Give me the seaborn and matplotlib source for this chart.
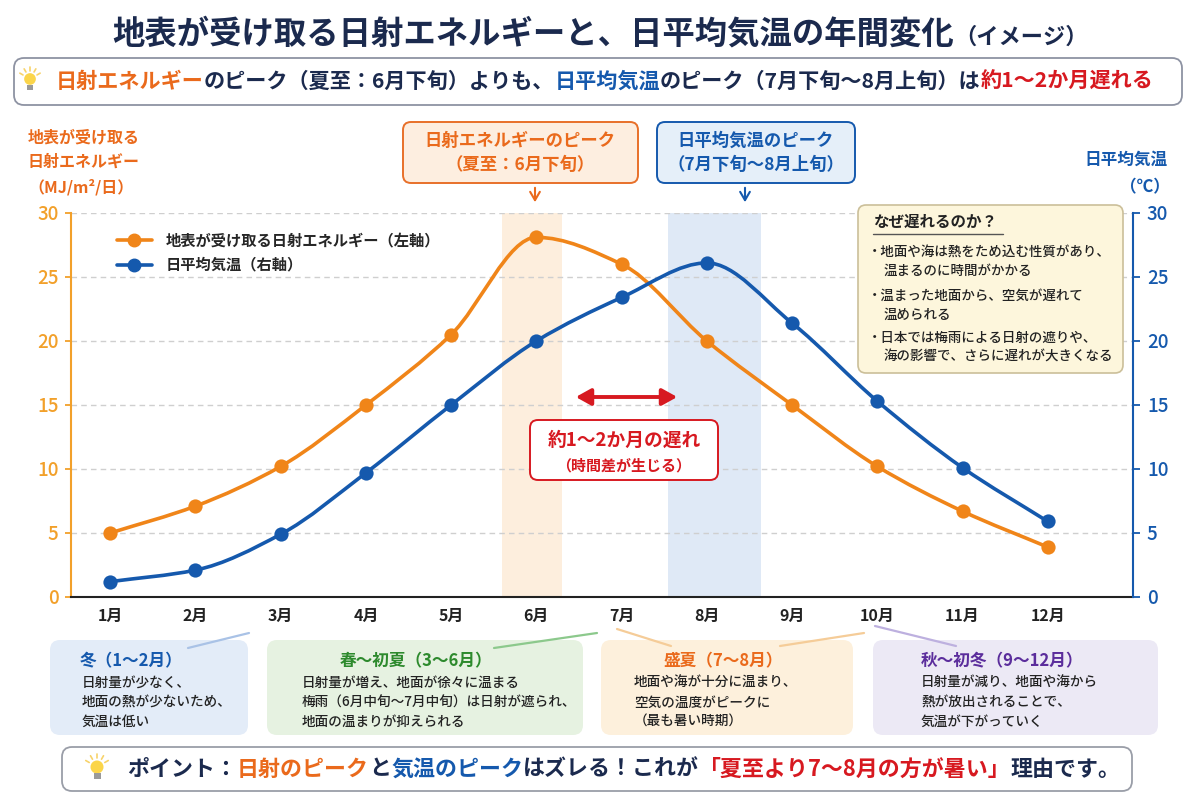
import numpy as np
import matplotlib
matplotlib.use("Agg")
import matplotlib.pyplot as plt
from matplotlib.patches import FancyBboxPatch, PathPatch, Circle, Rectangle, FancyArrowPatch
from matplotlib.path import Path
from matplotlib.lines import Line2D
import seaborn as sns

# data
months = np.arange(1, 13)
month_labels = [f"{m}月" for m in months]
solar = [5.0, 7.1, 10.2, 15.0, 20.5, 28.1, 26.0, 20.0, 15.0, 10.2, 6.7, 3.9]   # MJ/m2/day
temp = [1.2, 2.1, 4.9, 9.7, 15.0, 20.0, 23.4, 26.1, 21.4, 15.3, 10.1, 5.9]     # deg C
solar_peak_span = (5.6, 6.3)
temp_peak_span = (7.55, 8.64)
y_ticks = [0, 5, 10, 15, 20, 25, 30]

NAVY = "#1b2a4e"
ORANGE = "#f08519"
ORANGE_TXT = "#ea6a1c"
ORANGE_TICK = "#f2a02a"
BLUE = "#1559ad"
RED = "#d71920"
GREEN = "#2d8a2d"
PURPLE = "#5b2d9c"

sns.set_theme(style="white")
plt.rcParams["font.family"] = ["Noto Sans CJK JP", "DejaVu Sans"]

fig = plt.figure(figsize=(12, 8), dpi=100)
fig.patch.set_facecolor("white")


def smooth_path(x, y):
    # monotone cubic (pchip-style) rendered as bezier segments
    x = np.asarray(x, float)
    y = np.asarray(y, float)
    h = np.diff(x)
    d = np.diff(y) / h
    m = np.zeros_like(y)
    for k in range(1, len(x) - 1):
        if d[k - 1] * d[k] <= 0:
            m[k] = 0
        else:
            w1 = 2 * h[k] + h[k - 1]
            w2 = h[k] + 2 * h[k - 1]
            m[k] = (w1 + w2) / (w1 / d[k - 1] + w2 / d[k])
    m[0] = d[0]
    m[-1] = d[-1]
    verts = [(x[0], y[0])]
    codes = [Path.MOVETO]
    for k in range(len(x) - 1):
        verts += [(x[k] + h[k] / 3, y[k] + m[k] * h[k] / 3),
                  (x[k + 1] - h[k] / 3, y[k + 1] - m[k + 1] * h[k] / 3),
                  (x[k + 1], y[k + 1])]
        codes += [Path.CURVE4] * 3
    return Path(verts, codes)


# ---- main chart
ax = fig.add_axes([71 / 1200, 1 - 597 / 800, (1133 - 71) / 1200, (597 - 213) / 800])
ax2 = ax.twinx()
for a in (ax, ax2):
    a.set_xlim(0.54, 13.0)
    a.set_ylim(0, 30)
    a.set_yticks(y_ticks)

ax.set_axisbelow(True)
ax.yaxis.grid(True, linestyle=(0, (4, 3)), color="#cfcfcf", linewidth=1)
ax.xaxis.grid(False)
ax.axvspan(*solar_peak_span, color="#fdeedd", zorder=0.2, lw=0)
ax.axvspan(*temp_peak_span, color="#dfe9f6", zorder=0.2, lw=0)

ax.add_patch(PathPatch(smooth_path(months, solar), fill=False, edgecolor=ORANGE, lw=2.6, zorder=3))
sns.scatterplot(x=months, y=solar, ax=ax, color=ORANGE, s=105, linewidth=0, zorder=4, legend=False)
ax2.add_patch(PathPatch(smooth_path(months, temp), fill=False, edgecolor=BLUE, lw=2.6, zorder=3))
sns.scatterplot(x=months, y=temp, ax=ax2, color=BLUE, s=105, linewidth=0, zorder=4, legend=False)

ax.set_xticks(months)
ax.set_xticklabels(month_labels, fontsize=11.5, fontweight="bold", color="#222222")
ax.tick_params(axis="x", length=0, pad=8)
ax.tick_params(axis="y", colors=ORANGE_TICK, labelsize=13.5, length=4, width=1.3, pad=5)
ax2.tick_params(axis="y", colors=BLUE, labelsize=13.5, length=5, width=1.3, pad=5)
for lab in ax.get_yticklabels() + ax2.get_yticklabels():
    lab.set_fontweight("medium")
ax.set_xlabel("")
ax.set_ylabel("")
ax2.set_ylabel("")

for s in ("top", "right"):
    ax.spines[s].set_visible(False)
for s in ("top", "left", "bottom"):
    ax2.spines[s].set_visible(False)
ax.spines["left"].set_color(ORANGE_TICK)
ax.spines["left"].set_linewidth(1.5)
ax.spines["bottom"].set_color("#222222")
ax.spines["bottom"].set_linewidth(1.5)
ax2.spines["right"].set_color(BLUE)
ax2.spines["right"].set_linewidth(1.5)

handles = [Line2D([], [], color=ORANGE, lw=2.6, marker="o", ms=9),
           Line2D([], [], color=BLUE, lw=2.6, marker="o", ms=9)]
ax2.legend(handles, ["地表が受け取る日射エネルギー（左軸）", "日平均気温（右軸）"],
           loc="upper left", bbox_to_anchor=(0.03, 0.985), frameon=False,
           handlelength=2.3, handletextpad=0.9, labelspacing=0.55,
           prop={"weight": "bold", "size": 11})

# ---- overlay in pixel coordinates for the annotations
ov = fig.add_axes([0, 0, 1, 1], zorder=10)
ov.set_xlim(0, 1200)
ov.set_ylim(800, 0)
ov.axis("off")
ov.patch.set_visible(False)
renderer = fig.canvas.get_renderer()


def rich(x, y, parts, size, ha="left", weight="bold", va="center"):
    objs = []
    cur = x
    for part in parts:
        s, c = part[0], part[1]
        sz = part[2] if len(part) > 2 else size
        t = ov.text(cur, y, s, color=c, fontsize=sz, fontweight=weight, ha="left", va=va)
        objs.append(t)
        cur += t.get_window_extent(renderer).width
    total = cur - x
    if ha == "center":
        for t in objs:
            t.set_x(t.get_position()[0] - total / 2)
    return total


def rbox(x0, y0, x1, y1, fc, ec, lw=1.2, r=8):
    ov.add_patch(FancyBboxPatch((x0, y0), x1 - x0, y1 - y0,
                                boxstyle=f"round,pad=0,rounding_size={r}",
                                fc=fc, ec=ec, lw=lw))


def bulb(x, y, scale=1.0):
    for ang in np.linspace(-150, -30, 5):
        a = np.deg2rad(ang)
        ov.plot([x + 9 * scale * np.cos(a), x + 13 * scale * np.cos(a)],
                [y - 2 + 9 * scale * np.sin(a), y - 2 + 13 * scale * np.sin(a)],
                color="#f7d36b", lw=1.2)
    ov.add_patch(Circle((x, y - 2), 6.5 * scale, fc="#fbd54a", ec="none"))
    ov.add_patch(Rectangle((x - 3.5 * scale, y + 4 * scale), 7 * scale, 6 * scale, fc="#9a9a9a", ec="none"))


# title
rich(600, 44, [("地表が受け取る日射エネルギーと、日平均気温の年間変化", NAVY, 23.3),
               ("（イメージ）", NAVY, 16)], 23, ha="center", va="baseline")

# subtitle box
rbox(14, 58, 1182, 105, "white", "#8e93a3", lw=1.3, r=10)
bulb(30, 81, 0.9)
rich(56, 81, [("日射エネルギー", ORANGE_TXT), ("のピーク（夏至：6月下旬）よりも、", NAVY),
              ("日平均気温", BLUE), ("のピーク（7月下旬～8月上旬）は", NAVY),
              ("約1～2か月遅れる", RED)], 15.2)

# axis titles
for i, line in enumerate(["地表が受け取る", "日射エネルギー", "（MJ/m²/日）"]):
    ov.text(28, 137 + 25 * i, line, color=ORANGE_TXT, fontsize=11.5, fontweight="bold",
            ha="left", va="center")
ov.text(1168, 160, "日平均気温", color=BLUE, fontsize=12, fontweight="bold", ha="right", va="center")
ov.text(1170, 187, "（℃）", color=BLUE, fontsize=12, fontweight="bold", ha="right", va="center")

# peak callouts
rbox(403, 122, 638, 183, "#fdeee0", "#e8702a", lw=1.4, r=8)
ov.text(520, 141, "日射エネルギーのピーク", color=ORANGE_TXT, fontsize=12.5, fontweight="bold", ha="center", va="center")
ov.text(520, 165, "（夏至：6月下旬）", color=ORANGE_TXT, fontsize=12.5, fontweight="bold", ha="center", va="center")
ov.add_patch(FancyArrowPatch((535, 185), (535, 205), arrowstyle="->,head_width=3.5,head_length=6",
                             color=ORANGE_TXT, lw=1.5))
rbox(657, 122, 855, 183, "#e5eff9", BLUE, lw=1.4, r=8)
ov.text(756, 141, "日平均気温のピーク", color=BLUE, fontsize=12.5, fontweight="bold", ha="center", va="center")
ov.text(756, 165, "（7月下旬～8月上旬）", color=BLUE, fontsize=12.5, fontweight="bold", ha="center", va="center")
ov.add_patch(FancyArrowPatch((745, 185), (745, 205), arrowstyle="->,head_width=3.5,head_length=6",
                             color=BLUE, lw=1.5))

# why box
rbox(858, 205, 1123, 373, "#fdf6dc", "#cbbf99", lw=1.2, r=8)
ov.text(873, 222, "なぜ遅れるのか？", color="#222222", fontsize=11.2, fontweight="bold", ha="left", va="center")
ov.plot([873, 1003], [234, 234], color="#555555", lw=1)
why_lines = [("・地面や海は熱をため込む性質があり、", 252), ("温まるのに時間がかかる", 271),
             ("・温まった地面から、空気が遅れて", 296), ("温められる", 315),
             ("・日本では梅雨による日射の遮りや、", 338), ("海の影響で、さらに遅れが大きくなる", 357)]
for s, yy in why_lines:
    xx = 868 if s.startswith("・") else 884
    ov.text(xx, yy, s, color="#222222", fontsize=9.7, fontweight="medium", ha="left", va="center")

# delay arrow + box
ov.add_patch(FancyArrowPatch((573, 397), (680, 397), arrowstyle="<|-|>,head_width=5,head_length=9",
                             color=RED, lw=2.8, mutation_scale=1))
rbox(530, 420, 718, 480, "white", RED, lw=1.4, r=8)
ov.text(624, 440, "約1～2か月の遅れ", color=RED, fontsize=13.5, fontweight="bold", ha="center", va="center")
ov.text(624, 465, "（時間差が生じる）", color=RED, fontsize=10.8, fontweight="bold", ha="center", va="center")

# season boxes
seasons = [
    (50, 248, "#e3ecf8", BLUE, "冬（1～2月）", 80,
     ["日射量が少なく、", "地面の熱が少ないため、", "気温は低い"], 82, "#a9c2e6"),
    (267, 583, "#e6f2e1", GREEN, "春～初夏（3～6月）", 340,
     ["日射量が増え、地面が徐々に温まる", "梅雨（6月中旬～7月中旬）は日射が遮られ、", "地面の温まりが抑えられる"], 302, "#8cc98c"),
    (601, 853, "#fdf0dc", ORANGE_TXT, "盛夏（7～8月）", 663,
     ["地面や海が十分に温まり、", "空気の温度がピークに", "（最も暑い時期）"], 634, "#f5cc98"),
    (873, 1158, "#ece9f5", PURPLE, "秋～初冬（9～12月）", 921,
     ["日射量が減り、地面や海から", "熱が放出されることで、", "気温が下がっていく"], 921, "#bdb0df"),
]
for x0, x1, fc, tc, title, tx, lines, lx, lc in seasons:
    rbox(x0, 640, x1, 735, fc, "none", lw=0, r=10)
    ov.text(tx, 661, title, color=tc, fontsize=12, fontweight="bold", ha="left", va="center")
    for i, s in enumerate(lines):
        ov.text(lx, 683 + 19.5 * i, s, color="#222222", fontsize=9.8, fontweight="medium",
                ha="left", va="center")

connectors = [((249, 633), (188, 648), "#a9c2e6"), ((597, 633), (494, 648), "#8cc98c"),
              ((617, 629), (671, 646), "#f5cc98"), ((864, 633), (780, 646), "#f5cc98"),
              ((875, 626), (956, 646), "#bdb0df")]
for (xa, ya), (xb, yb), c in connectors:
    ov.plot([xa, xb], [ya, yb], color=c, lw=1.6, solid_capstyle="round")

# bottom point box
rbox(62, 747, 1132, 791, "white", "#9a9ea8", lw=1.3, r=10)
bulb(97, 769, 1.0)
rich(127, 769, [("ポイント：", NAVY), ("日射のピーク", ORANGE_TXT), ("と", NAVY),
                ("気温のピーク", BLUE), ("はズレる！これが", NAVY),
                ("「夏至より7～8月の方が暑い」", RED), ("理由です。", NAVY)], 15.8)

fig.savefig("out.png", dpi=100)
